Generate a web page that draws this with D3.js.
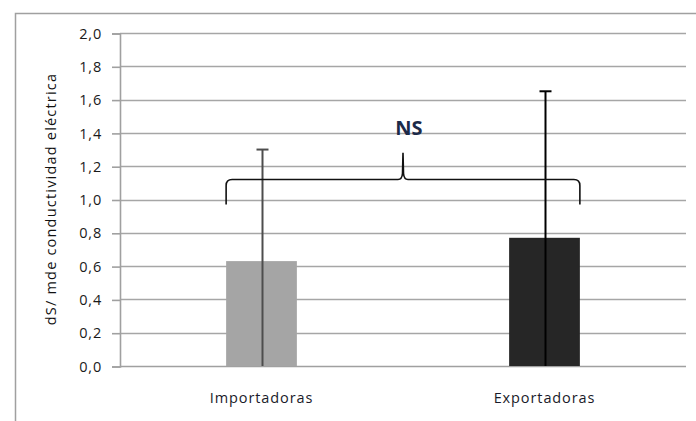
<!DOCTYPE html>
<html>
<head>
<meta charset="utf-8">
<script src="https://cdn.jsdelivr.net/npm/d3@7"></script>
<style>
  html, body { margin: 0; padding: 0; background: #fff; }
  svg { display: block; }
  text { font-family: "Open Sans", "Lato", sans-serif; }
</style>
</head>
<body>
<svg id="chart" width="696" height="421"></svg>
<script>
// Electrical conductivity by group (mean and upper error)
const categories = ["Importadoras", "Exportadoras"];
const means = [0.63, 0.77];
const errorTops = [1.30, 1.65];
const barColors = ["#a5a5a5", "#262626"];
const errorColors = ["#4d4d4d", "#000000"];
const yTicks = [0, 0.2, 0.4, 0.6, 0.8, 1.0, 1.2, 1.4, 1.6, 1.8, 2.0];
const yLabel = "dS/ mde conductividad eléctrica";
const signifLabel = "NS";
const braceLevel = 1.12;   // value at which the brace's horizontal run sits
const braceEnds = 0.97;    // value where the brace ends curl down to
const bracePeak = 1.28;    // value at the brace's central point

const svg = d3.select("#chart");
const W = 696, H = 421;
const plot = { left: 120, right: 686, top: 33, bottom: 366 };

// outer chart frame (left and top edges visible)
svg.append("path")
  .attr("d", `M15.5,${H} V13.5 H${W}`)
  .attr("fill", "none").attr("stroke", "#a0a0a0").attr("stroke-width", 1.5);

const x = d3.scaleBand().domain(categories).range([plot.left, plot.right]).paddingInner(0).paddingOuter(0);
const y = d3.scaleLinear().domain([0, 2]).range([plot.bottom, plot.top]);

// horizontal gridlines
svg.append("g").selectAll("line").data(yTicks.filter(d => d > 0)).join("line")
  .attr("x1", plot.left).attr("x2", plot.right)
  .attr("y1", d => Math.round(y(d)) + 0.5).attr("y2", d => Math.round(y(d)) + 0.5)
  .attr("stroke", "#a6a6a6").attr("stroke-width", 1.6);

// y axis with outward ticks
const yAxis = d3.axisLeft(y).tickValues(yTicks).tickSize(8).tickPadding(10)
  .tickFormat(d => d3.format(".1f")(d).replace(".", ","));
const gy = svg.append("g").attr("transform", `translate(${plot.left},0.5)`).call(yAxis);
gy.select(".domain").attr("stroke", "#a0a0a0").attr("stroke-width", 1.6);
gy.selectAll(".tick line").attr("stroke", "#a0a0a0").attr("stroke-width", 1.6);
gy.selectAll(".tick text").attr("font-size", 14.5).attr("fill", "#1a1a1a")
  .attr("letter-spacing", 0.8)
  .attr("font-family", "'Open Sans', sans-serif");

// baseline
svg.append("line")
  .attr("x1", plot.left).attr("x2", plot.right)
  .attr("y1", y(0) + 0.5).attr("y2", y(0) + 0.5)
  .attr("stroke", "#a0a0a0").attr("stroke-width", 1.6);

// bars
const barW = x.bandwidth() * 0.25;
svg.append("g").selectAll("rect").data(categories).join("rect")
  .attr("x", d => x(d) + x.bandwidth() / 2 - barW / 2)
  .attr("y", (d, i) => y(means[i]))
  .attr("width", barW)
  .attr("height", (d, i) => y(0) - y(means[i]))
  .attr("fill", (d, i) => barColors[i]);

// error bars (upper whisker with cap, line runs down to the baseline)
const eg = svg.append("g");
categories.forEach((c, i) => {
  const cx = Math.round(x(c) + x.bandwidth() / 2) + 0.5;
  eg.append("line").attr("x1", cx).attr("x2", cx)
    .attr("y1", y(errorTops[i])).attr("y2", y(0))
    .attr("stroke", errorColors[i]).attr("stroke-width", 2);
  eg.append("line").attr("x1", cx - 6).attr("x2", cx + 6)
    .attr("y1", y(errorTops[i])).attr("y2", y(errorTops[i]))
    .attr("stroke", errorColors[i]).attr("stroke-width", 2);
});

// curly brace spanning both groups
const bx0 = x(categories[0]) + x.bandwidth() / 2 - barW / 2;
const bx1 = x(categories[1]) + x.bandwidth() / 2 + barW / 2;
const bm = (bx0 + bx1) / 2;
const yl = y(braceLevel), ye = y(braceEnds), yp = y(bracePeak);
const r = 6;
const bracePath = d3.path();
bracePath.moveTo(bx0, ye);
bracePath.lineTo(bx0, yl + r);
bracePath.quadraticCurveTo(bx0, yl, bx0 + r, yl);
bracePath.lineTo(bm - 5, yl);
bracePath.quadraticCurveTo(bm - 1, yl, bm - 0.5, yl - 6);
bracePath.lineTo(bm, yp);
bracePath.lineTo(bm + 0.5, yl - 6);
bracePath.quadraticCurveTo(bm + 1, yl, bm + 5, yl);
bracePath.lineTo(bx1 - r, yl);
bracePath.quadraticCurveTo(bx1, yl, bx1, yl + r);
bracePath.lineTo(bx1, ye);
svg.append("path").attr("d", bracePath.toString())
  .attr("fill", "none").attr("stroke", "#111").attr("stroke-width", 1.6);

// significance label
svg.append("text")
  .attr("x", bm + 6).attr("y", y(1.39))
  .attr("text-anchor", "middle")
  .attr("font-size", 20).attr("font-weight", "bold").attr("fill", "#1c2a48")
  .text(signifLabel);

// category labels
svg.append("g").selectAll("text").data(categories).join("text")
  .attr("x", d => x(d) + x.bandwidth() / 2)
  .attr("y", 403)
  .attr("text-anchor", "middle")
  .attr("font-size", 14.5).attr("letter-spacing", 0.9).attr("fill", "#1a1a2a")
  .text(d => d);

// y axis title
svg.append("text")
  .attr("transform", `translate(56,199) rotate(-90)`)
  .attr("text-anchor", "middle")
  .attr("font-size", 14.5).attr("letter-spacing", 1.2).attr("fill", "#111")
  .text(yLabel);
</script>
</body>
</html>
